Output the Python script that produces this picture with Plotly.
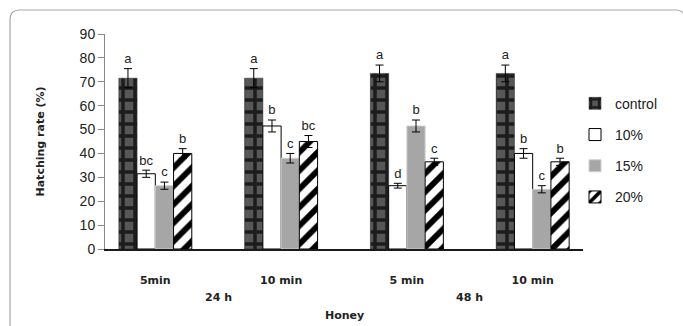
import plotly.graph_objects as go

# Treatment groups: incubation period and honey exposure time
periods = ["24 h", "24 h", "48 h", "48 h"]
durations = ["5min", "10 min", "5 min", "10 min"]

series_names = ["control", "10%", "15%", "20%"]
control = [71.5, 71.5, 73.5, 73.5]
pct10 = [31.5, 51.5, 26.5, 40.0]
pct15 = [26.5, 38.0, 51.5, 25.0]
pct20 = [40.0, 45.0, 36.5, 36.5]

control_err = [4.0, 4.0, 3.5, 3.5]
pct10_err = [1.5, 2.5, 1.0, 2.0]
pct15_err = [1.5, 2.0, 2.5, 1.5]
pct20_err = [2.0, 2.5, 1.5, 1.5]

control_sig = ["a", "a", "a", "a"]
pct10_sig = ["bc", "b", "d", "b"]
pct15_sig = ["c", "c", "b", "c"]
pct20_sig = ["b", "bc", "c", "b"]

values = [control, pct10, pct15, pct20]
errors = [control_err, pct10_err, pct15_err, pct20_err]
letters = [control_sig, pct10_sig, pct15_sig, pct20_sig]

# unique category keys, labelled with the exposure time
cat_keys = [f"{p} / {d}" for p, d in zip(periods, durations)]

styles = [
    dict(color="#1c1c1c", pattern=dict(shape="+", fgcolor="#1c1c1c", bgcolor="#575757",
                                       size=12, solidity=0.5, fillmode="replace"),
         line=dict(color="#1c1c1c", width=0.5)),
    dict(color="white", line=dict(color="black", width=1)),
    dict(color="#a6a6a6", line=dict(color="#d0d0d0", width=1)),
    dict(color="white", pattern=dict(shape="/", fgcolor="black", bgcolor="white",
                                     size=13, solidity=0.45, fillmode="replace"),
         line=dict(color="black", width=1)),
]

label_pad = 1.0  # gap between error-bar cap and significance letter

fig = go.Figure()
for i, name in enumerate(series_names):
    fig.add_trace(go.Bar(
        x=cat_keys, y=values[i], name=name,
        marker=styles[i], offsetgroup=str(i), legendgroup=name,
        error_y=dict(type="data", array=errors[i], color="black", thickness=1, width=4),
    ))

for i, name in enumerate(series_names):
    tops = [v + e + label_pad for v, e in zip(values[i], errors[i])]
    fig.add_trace(go.Scatter(
        x=cat_keys, y=tops, mode="text", text=letters[i], textposition="top center",
        textfont=dict(family="Liberation Sans, Arial", size=13, color="#222222"),
        offsetgroup=str(i), showlegend=False, hoverinfo="skip", cliponaxis=False,
    ))

# Plot area in pixels (used for the frame and the lower labels)
L, R, T, B = 105, 583, 34, 249
fx = lambda px: (px - L) / (R - L)
fy = lambda py: (B - py) / (B - T)

frame = (f"M {fx(10)},{fy(340)} L {fx(10)},{fy(20)} "
         f"Q {fx(10)},{fy(10)} {fx(20)},{fy(10)} L {fx(676)},{fy(10)} "
         f"Q {fx(681)},{fy(10)} {fx(683)},{fy(13)}")

bold_font = dict(family="DejaVu Sans", size=11, color="#222222")

annotations = []
for p in dict.fromkeys(periods):
    idx = [k for k, q in enumerate(periods) if q == p]
    annotations.append(dict(text=f"<b>{p}</b>", xref="x", yref="paper",
                            x=sum(idx) / len(idx), y=fy(297), yanchor="middle",
                            showarrow=False, font=bold_font))
annotations.append(dict(text="<b>Honey</b>", xref="paper", yref="paper",
                        x=0.5, y=fy(315), yanchor="middle",
                        showarrow=False, font=bold_font))

fig.update_layout(
    width=683, height=326,
    margin=dict(l=L, r=683 - R, t=T, b=326 - B),
    paper_bgcolor="white", plot_bgcolor="white",
    barmode="group", bargap=0.42, bargroupgap=0,
    scattermode="group", scattergap=0.42,
    font=dict(family="Liberation Sans, Arial", size=13, color="#222222"),
    showlegend=True,
    legend=dict(x=fx(575), y=0.75, xanchor="left", yanchor="top",
                font=dict(size=14, family="Liberation Sans, Arial", color="#222222"),
                tracegroupgap=10, bgcolor="rgba(0,0,0,0)"),
    shapes=[dict(type="path", xref="paper", yref="paper", path=frame,
                 line=dict(color="#a8a8a8", width=1.2))],
    annotations=annotations,
)

fig.update_xaxes(
    type="category", range=[-0.4, len(cat_keys) - 0.6],
    tickvals=cat_keys, ticktext=[f"<b>{d}</b>" for d in durations],
    showline=True, linecolor="#1a1a1a", linewidth=2,
    ticks="", ticklabelstandoff=20,
    tickfont=bold_font,
)
fig.update_yaxes(
    range=[0, 90], dtick=10, showgrid=False, zeroline=False,
    showline=True, linecolor="#888888", linewidth=1,
    ticks="outside", ticklen=6, tickcolor="#888888",
    tickfont=dict(family="Liberation Sans, Arial", size=14, color="#222222"),
    title=dict(text="<b>Hatching rate (%)</b>", standoff=32, font=bold_font),
)

fig.write_html("out.html")
